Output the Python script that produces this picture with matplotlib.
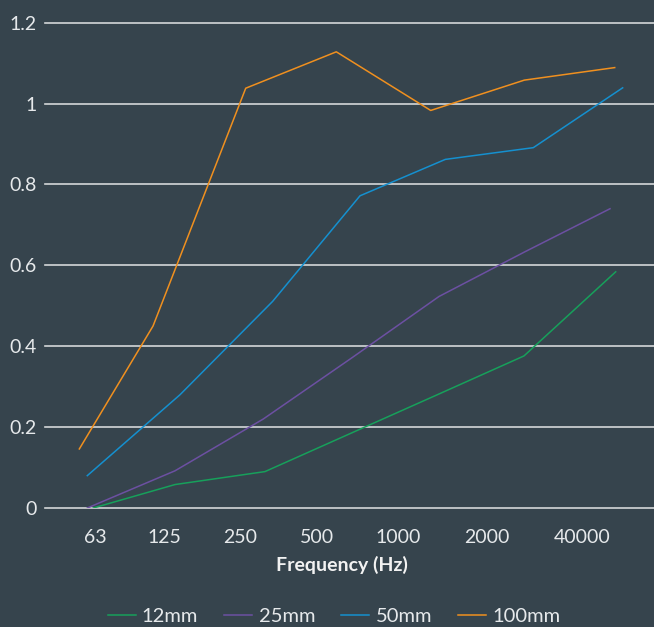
import matplotlib.pyplot as plt

# frequency bands shown on the x axis
freq_labels = ['63', '125', '250', '500', '1000', '2000', '40000']
# label positions along the axis (band index units)
freq_pos = [0, 0.856, 1.786, 2.730, 3.736, 4.829, 6.0]

# each series sits at its own positions along the axis
x_12mm = [-0.021, 0.986, 2.094, 3.166, 4.250, 5.285, 6.415]
y_12mm = [0.0, 0.058, 0.09, 0.186, 0.283, 0.376, 0.584]

x_25mm = [-0.095, 0.986, 2.073, 3.155, 4.238, 5.291, 6.345]
y_25mm = [0.0, 0.092, 0.22, 0.37, 0.523, 0.633, 0.74]

x_50mm = [-0.095, 1.047, 2.189, 3.265, 4.316, 5.40, 6.501]
y_50mm = [0.08, 0.28, 0.511, 0.772, 0.862, 0.891, 1.039]

x_100mm = [-0.193, 0.715, 1.857, 2.973, 4.136, 5.289, 6.403]
y_100mm = [0.146, 0.45, 1.038, 1.128, 0.983, 1.058, 1.089]

bg = '#36444d'
txt = '#e6e9eb'
plt.rcParams['font.family'] = ['Lato', 'DejaVu Sans']

fig = plt.figure(figsize=(6.54, 6.27), dpi=100, facecolor=bg)
ax = fig.add_axes([45 / 654, 1 - 508 / 627, 609 / 654, (508 - 22.7) / 627])
ax.set_facecolor(bg)

ax.plot(x_12mm, y_12mm, color='#17a05b', lw=1.1, label='12mm')
ax.plot(x_25mm, y_25mm, color='#6c50a2', lw=1.1, label='25mm')
ax.plot(x_50mm, y_50mm, color='#1590cf', lw=1.1, label='50mm')
ax.plot(x_100mm, y_100mm, color='#f0901f', lw=1.1, label='100mm')

ax.set_xlim(-0.616, 6.887)
ax.set_ylim(0, 1.2)
ax.set_yticks([0, 0.2, 0.4, 0.6, 0.8, 1.0, 1.2])
ax.set_yticklabels(['0', '0.2', '0.4', '0.6', '0.8', '1', '1.2'])
ax.set_xticks(freq_pos)
ax.set_xticklabels(freq_labels)

for sp in ax.spines.values():
    sp.set_visible(False)
ax.tick_params(axis='both', length=0, colors=txt, labelsize=14)
ax.tick_params(axis='y', pad=6)
ax.tick_params(axis='x', pad=15)
for y in [0, 0.2, 0.4, 0.6, 0.8, 1.0, 1.2]:
    ax.axhline(y, color='#d4d7d9', lw=1.2, zorder=0, clip_on=False)

ax.set_xlabel('Frequency (Hz)', color='#f2f2f2', fontsize=14, fontweight='bold', va='center')
ax.xaxis.set_label_coords(0.487, -0.1175)

leg = fig.legend(loc='center', bbox_to_anchor=(334 / 654, 1 - 616 / 627), ncol=4,
                 frameon=False, fontsize=14.5, handlelength=1.4, handletextpad=0.3,
                 columnspacing=1.3)
for t in leg.get_texts():
    t.set_color(txt)

fig.savefig('out.png', dpi=100, facecolor=bg)
